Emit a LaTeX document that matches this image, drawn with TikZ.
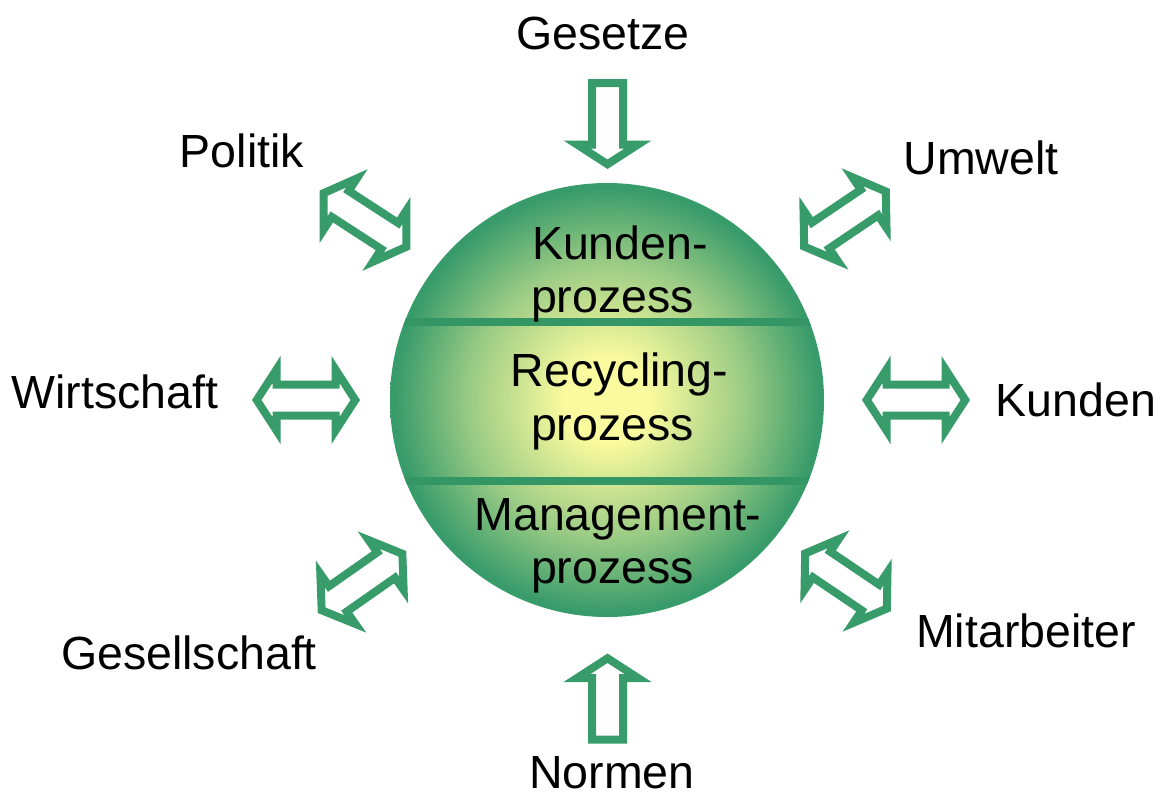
\documentclass[tikz,border=0pt]{standalone}
\usepackage{fontspec}
\setmainfont{Liberation Sans}
\definecolor{leafgreen}{RGB}{56,155,106}
\definecolor{bandgreen}{RGB}{52,150,100}
\definecolor{paleyellow}{RGB}{250,250,158}
\pgfdeclareradialshading{ballglow}{\pgfpoint{0bp}{0bp}}{%
  color(0bp)=(paleyellow);
  color(5bp)=(paleyellow);
  color(16bp)=(paleyellow!50!leafgreen);
  color(24.5bp)=(leafgreen);
  color(50bp)=(leafgreen)}
\tikzset{
  txt/.style={font=\fontsize{46.5}{53}\selectfont, inner sep=0pt, anchor=base},
  % hollow double-headed block arrow, axis along x, centred at the origin
  twoway/.pic={
    \fill[leafgreen, even odd rule]
      (-54,0) -- (-25.5,-44) -- (-25.5,-19.5) -- (25.5,-19.5) -- (25.5,-44)
        -- (54,0) -- (25.5,44) -- (25.5,19.5) -- (-25.5,19.5) -- (-25.5,44) -- cycle
      (-44.5,0) -- (-33.5,-17) -- (-33.5,-11.5) -- (33.5,-11.5) -- (33.5,-17)
        -- (44.5,0) -- (33.5,17) -- (33.5,11.5) -- (-33.5,11.5) -- (-33.5,17) -- cycle;
  },
  % hollow single block arrow pointing along +x, centred at the origin
  oneway/.pic={
    \fill[leafgreen, even odd rule]
      (-45,-19.5) -- (16.5,-19.5) -- (16.5,-44) -- (45,0) -- (16.5,44)
        -- (16.5,19.5) -- (-45,19.5) -- cycle
      (-37,-11.5) -- (24.5,-11.5) -- (24.5,-17) -- (35.5,0) -- (24.5,17)
        -- (24.5,11.5) -- (-37,11.5) -- cycle;
  }
}
\begin{document}
\begin{tikzpicture}[x=1pt, y=-1pt]
\useasboundingbox (0,0) rectangle (1166,796);

% central sphere with its three process bands
\coordinate (c) at (607,400);
\begin{scope}
  \clip (c) circle[radius=217];
  \shade[shading=ballglow] (c) circle[radius=217];
  \draw[bandgreen, line width=8pt] (380,322) -- (830,322);
  \draw[bandgreen, line width=8pt] (380,481) -- (830,481);
\end{scope}

\node[txt] (kunden1) at (620,259) {Kunden-};
\node[txt] (kunden2) at (612.5,312) {prozess};
\node[txt] (recyc1) at (619.5,386) {Recycling-};
\node[txt] (recyc2) at (612.5,440) {prozess};
\node[txt] (mgmt1) at (618,530) {Management-};
\node[txt] (mgmt2) at (612.5,583) {prozess};

% arrows around the sphere
\pic (gesetzearrow) [rotate=-90] at (607.5,124) {oneway};
\pic (normenarrow) [rotate=90] at (607.5,698.5) {oneway};
\pic (wirtschaftarrow) at (306,400) {twoway};
\pic (kundenarrow) at (916,400) {twoway};
\pic (politikarrow) [rotate=-33] at (365,220) {twoway};
\pic (umweltarrow) [rotate=34] at (845,219) {twoway};
\pic (gesellarrow) [rotate=35] at (362,582) {twoway};
\pic (mitarbarrow) [rotate=-34] at (846,581) {twoway};

% surrounding influences
\node[txt] (gesetze) at (603,49) {Gesetze};
\node[txt] (politik) at (242,167) {Politik};
\node[txt] (umwelt) at (981,174) {Umwelt};
\node[txt] (wirtschaft) at (115,408) {Wirtschaft};
\node[txt] (kunden) at (1076,416) {Kunden};
\node[txt] (gesellschaft) at (189,669) {Gesellschaft};
\node[txt] (mitarbeiter) at (1026,647) {Mitarbeiter};
\node[txt] (normen) at (612,788) {Normen};
\end{tikzpicture}
\end{document}
